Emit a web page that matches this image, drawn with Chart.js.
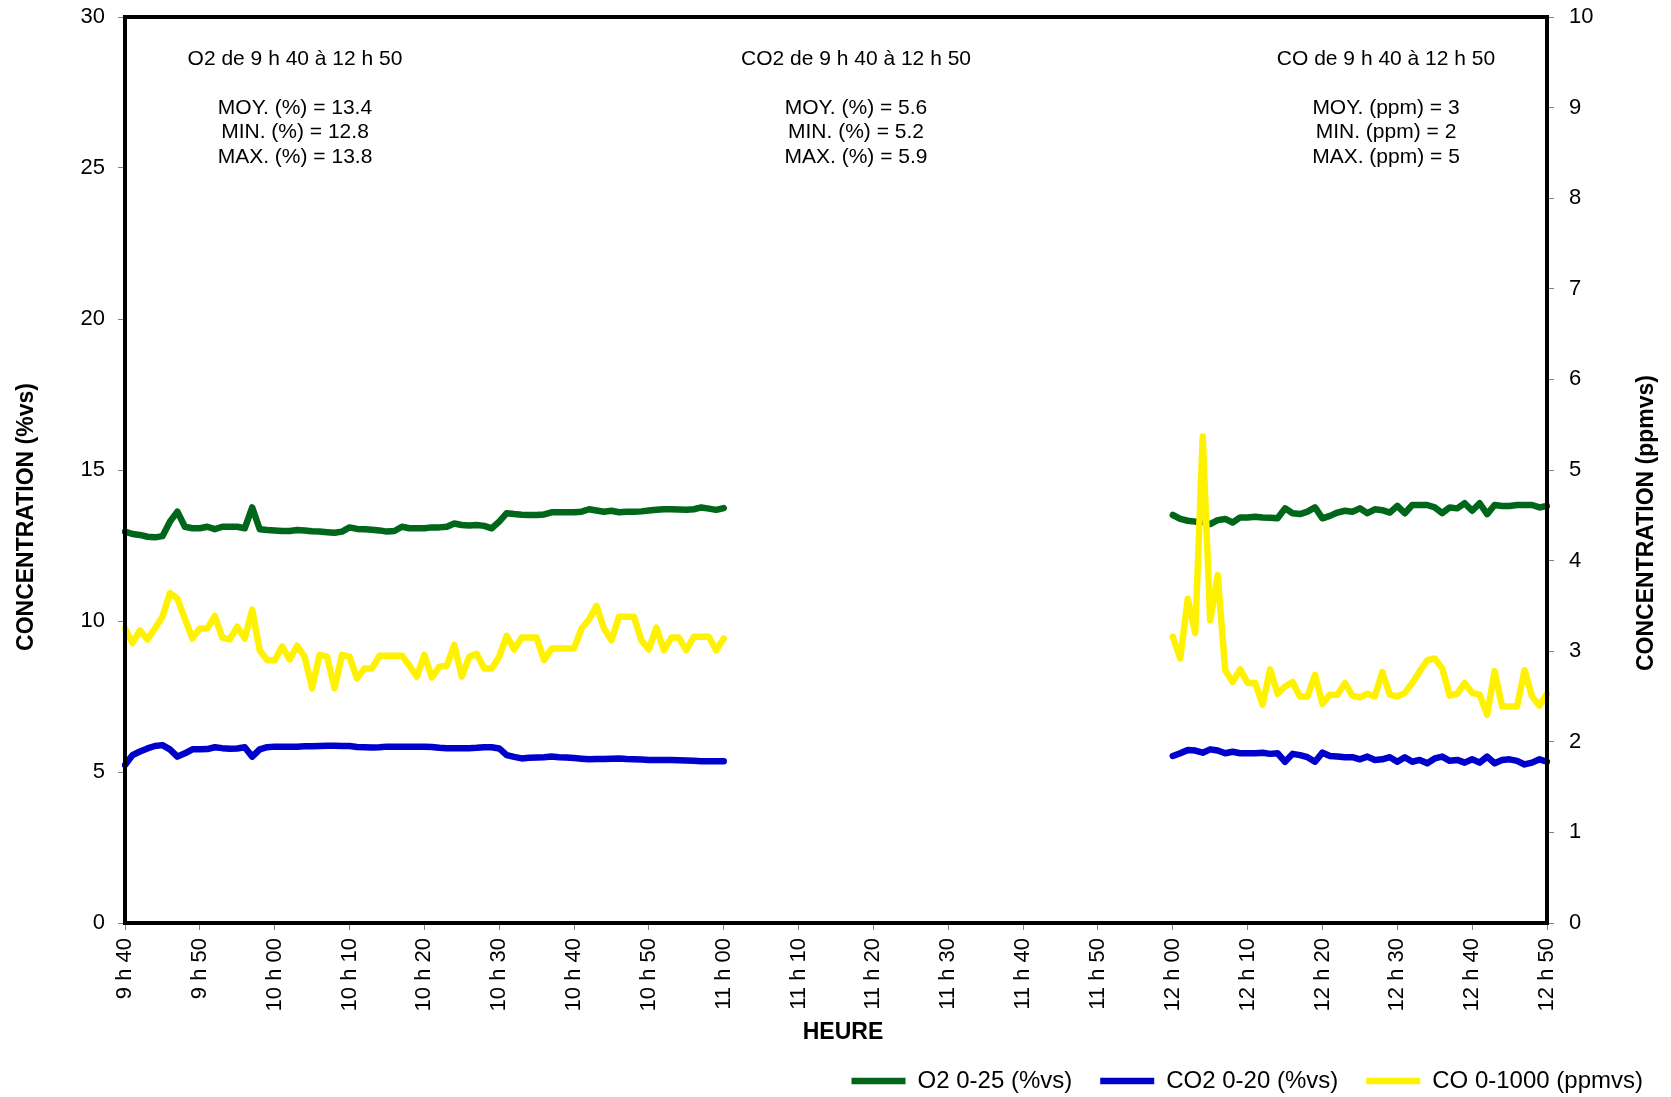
<!DOCTYPE html>
<html>
<head>
<meta charset="utf-8">
<script src="https://cdn.jsdelivr.net/npm/chart.js@4.4.0/dist/chart.umd.min.js"></script>
<style>
  html, body { margin: 0; padding: 0; background: #fff; }
</style>
</head>
<body>
<canvas id="chart" width="1671" height="1097"></canvas>
<script>
// x tick labels, one every 10 minutes
const tickLabels = ['9 h 40', '9 h 50', '10 h 00', '10 h 10', '10 h 20', '10 h 30', '10 h 40', '10 h 50',
  '11 h 00', '11 h 10', '11 h 20', '11 h 30', '11 h 40', '11 h 50', '12 h 00', '12 h 10', '12 h 20',
  '12 h 30', '12 h 40', '12 h 50'];

// readings, one per minute: 9 h 40 -> 11 h 00
const o2Morning = [12.96, 12.88, 12.85, 12.79, 12.77, 12.81, 13.29, 13.62, 13.12, 13.07,
  13.07, 13.12, 13.04, 13.12, 13.12, 13.12, 13.07, 13.76, 13.04, 13.01,
  13.00, 12.98, 12.98, 13.01, 13.00, 12.97, 12.96, 12.94, 12.92, 12.96,
  13.10, 13.05, 13.04, 13.02, 13.00, 12.96, 12.98, 13.12, 13.07, 13.07,
  13.07, 13.10, 13.10, 13.12, 13.23, 13.18, 13.16, 13.18, 13.15, 13.07,
  13.29, 13.57, 13.54, 13.52, 13.51, 13.51, 13.53, 13.60, 13.60, 13.60,
  13.60, 13.62, 13.70, 13.66, 13.62, 13.65, 13.60, 13.62, 13.62, 13.63,
  13.66, 13.68, 13.70, 13.70, 13.69, 13.68, 13.70, 13.76, 13.72, 13.68,
  13.74];
const co2Morning = [5.23, 5.56, 5.68, 5.78, 5.86, 5.89, 5.75, 5.51, 5.62, 5.75,
  5.75, 5.76, 5.82, 5.79, 5.77, 5.78, 5.82, 5.51, 5.75, 5.82,
  5.84, 5.84, 5.84, 5.84, 5.85, 5.85, 5.86, 5.87, 5.87, 5.86,
  5.86, 5.83, 5.82, 5.81, 5.82, 5.84, 5.84, 5.84, 5.84, 5.84,
  5.84, 5.83, 5.80, 5.79, 5.79, 5.79, 5.79, 5.80, 5.82, 5.82,
  5.78, 5.56, 5.50, 5.45, 5.47, 5.48, 5.49, 5.51, 5.49, 5.48,
  5.46, 5.44, 5.42, 5.43, 5.43, 5.44, 5.45, 5.43, 5.42, 5.41,
  5.40, 5.40, 5.40, 5.40, 5.39, 5.38, 5.37, 5.36, 5.36, 5.36,
  5.36];
const coMorning = [3.25, 3.09, 3.23, 3.13, 3.25, 3.38, 3.64, 3.58, 3.36, 3.14,
  3.25, 3.25, 3.39, 3.15, 3.13, 3.27, 3.14, 3.46, 3.01, 2.90,
  2.90, 3.05, 2.91, 3.06, 2.94, 2.59, 2.96, 2.94, 2.59, 2.96,
  2.94, 2.70, 2.81, 2.81, 2.95, 2.95, 2.95, 2.95, 2.84, 2.72,
  2.96, 2.71, 2.83, 2.84, 3.07, 2.72, 2.94, 2.97, 2.81, 2.81,
  2.94, 3.17, 3.02, 3.15, 3.15, 3.15, 2.90, 3.03, 3.03, 3.03,
  3.03, 3.25, 3.35, 3.50, 3.25, 3.12, 3.38, 3.38, 3.38, 3.12,
  3.02, 3.26, 3.01, 3.15, 3.15, 3.01, 3.16, 3.16, 3.16, 3.01,
  3.14];

// readings, one per minute: 12 h 00 -> 12 h 50
const o2Noon = [13.51, 13.38, 13.32, 13.29, 13.29, 13.21, 13.34, 13.38, 13.26, 13.43,
  13.43, 13.45, 13.43, 13.42, 13.40, 13.73, 13.57, 13.54, 13.62, 13.76,
  13.40, 13.48, 13.59, 13.65, 13.62, 13.73, 13.57, 13.70, 13.67, 13.59,
  13.81, 13.57, 13.84, 13.84, 13.84, 13.76, 13.57, 13.76, 13.73, 13.90,
  13.65, 13.90, 13.54, 13.84, 13.81, 13.81, 13.84, 13.84, 13.84, 13.76,
  13.81];
const co2Noon = [5.53, 5.62, 5.73, 5.71, 5.64, 5.75, 5.71, 5.62, 5.67, 5.62,
  5.62, 5.62, 5.64, 5.60, 5.62, 5.34, 5.60, 5.56, 5.49, 5.34,
  5.64, 5.53, 5.51, 5.49, 5.49, 5.42, 5.51, 5.40, 5.42, 5.49,
  5.34, 5.49, 5.34, 5.40, 5.29, 5.45, 5.51, 5.37, 5.40, 5.31,
  5.42, 5.31, 5.51, 5.29, 5.40, 5.42, 5.37, 5.25, 5.31, 5.42,
  5.34];
const coNoon = [3.16, 2.92, 3.58, 3.20, 5.37, 3.34, 3.84, 2.79, 2.66, 2.80,
  2.65, 2.65, 2.41, 2.80, 2.53, 2.61, 2.66, 2.50, 2.50, 2.74,
  2.42, 2.52, 2.52, 2.65, 2.51, 2.49, 2.53, 2.50, 2.77, 2.52,
  2.50, 2.54, 2.65, 2.78, 2.90, 2.92, 2.81, 2.51, 2.53, 2.65,
  2.54, 2.52, 2.30, 2.78, 2.39, 2.39, 2.39, 2.79, 2.50, 2.40,
  2.53];

// no readings between 11 h 01 and 11 h 59
const gap = new Array(59).fill(null);

const statsO2 = ['O2 de 9 h 40 à 12 h 50', 'MOY. (%) = 13.4', 'MIN. (%) = 12.8', 'MAX. (%) = 13.8'];
const statsCO2 = ['CO2 de 9 h 40 à 12 h 50', 'MOY. (%) = 5.6', 'MIN. (%) = 5.2', 'MAX. (%) = 5.9'];
const statsCO = ['CO de 9 h 40 à 12 h 50', 'MOY. (ppm) = 3', 'MIN. (ppm) = 2', 'MAX. (ppm) = 5'];

// one category per minute from 9 h 40 to 12 h 50
const minutes = [];
for (let i = 0; i <= 190; i++) {
  const t = 9 * 60 + 40 + i;
  minutes.push(Math.floor(t / 60) + ' h ' + String(t % 60).padStart(2, '0'));
}

const FONT = "'Liberation Sans', Arial, sans-serif";

const overlay = {
  id: 'overlay',
  afterDatasetsDraw(chart) {
    const { ctx, chartArea: a } = chart;
    ctx.save();
    ctx.lineWidth = 4;
    ctx.strokeStyle = '#000';
    ctx.strokeRect(a.left, a.top, a.right - a.left, a.bottom - a.top);

    ctx.fillStyle = '#000';
    ctx.textAlign = 'center';
    ctx.textBaseline = 'middle';
    ctx.font = '21px ' + FONT;
    [[295, statsO2], [856, statsCO2], [1386, statsCO]].forEach(([x, lines]) => {
      ctx.fillText(lines[0], x, 59);
      lines.slice(1).forEach((l, i) => ctx.fillText(l, x, 108 + i * 24.5));
    });

    ctx.font = 'bold 23px ' + FONT;
    ctx.fillText('HEURE', 843, 1033);
    ctx.translate(27, 517);
    ctx.rotate(-Math.PI / 2);
    ctx.fillText('CONCENTRATION (%vs)', 0, 0);
    ctx.restore();

    ctx.save();
    ctx.fillStyle = '#000';
    ctx.textAlign = 'center';
    ctx.textBaseline = 'middle';
    ctx.font = 'bold 23px ' + FONT;
    ctx.translate(1647, 523);
    ctx.rotate(-Math.PI / 2);
    ctx.fillText('CONCENTRATION (ppmvs)', 0, 0);
    ctx.restore();
  }
};

const lineStyle = {
  borderWidth: 6.5,
  pointRadius: 0,
  tension: 0,
  spanGaps: false,
  borderCapStyle: 'round',
  borderJoinStyle: 'round',
  fill: false
};

// fixed axis box sizes so the plot frame sits where the original one does
const fitY = width => s => {
  s.width = width;
  s.paddingTop = 0;
  s.paddingBottom = 0;
};

const ctx = document.getElementById('chart');
new Chart(ctx, {
  type: 'line',
  data: {
    labels: minutes,
    datasets: [
      { ...lineStyle, label: 'O2 0-25 (%vs)', data: [...o2Morning, ...gap, ...o2Noon],
        borderColor: '#00661A', backgroundColor: '#00661A', yAxisID: 'y', order: 2 },
      { ...lineStyle, label: 'CO2 0-20 (%vs)', data: [...co2Morning, ...gap, ...co2Noon],
        borderColor: '#0000CC', backgroundColor: '#0000CC', yAxisID: 'y', order: 1 },
      { ...lineStyle, label: 'CO 0-1000 (ppmvs)', data: [...coMorning, ...gap, ...coNoon],
        borderColor: '#FFF200', backgroundColor: '#FFF200', yAxisID: 'y1', order: 0 }
    ]
  },
  options: {
    responsive: false,
    animation: false,
    layout: { padding: { top: 17, left: 0, right: 0, bottom: -6 } },
    plugins: {
      tooltip: { enabled: false },
      legend: {
        position: 'bottom',
        align: 'end',
        labels: {
          usePointStyle: true,
          pointStyle: 'line',
          pointStyleWidth: 54,
          padding: 28,
          color: '#000',
          font: { family: FONT, size: 24 },
          sort: (a, b) => a.datasetIndex - b.datasetIndex
        }
      }
    },
    scales: {
      x: {
        type: 'category',
        offset: false,
        afterFit: s => { s.height = 118; },
        border: { display: false },
        grid: { drawOnChartArea: false, tickLength: 7, color: '#808080', tickColor: '#808080' },
        ticks: {
          autoSkip: false,
          minRotation: 90,
          maxRotation: 90,
          padding: 8,
          color: '#000',
          font: { family: FONT, size: 22 },
          callback: (v, i) => (i % 10 === 0 ? tickLabels[i / 10] : null)
        }
      },
      y: {
        position: 'left',
        min: 0,
        max: 30,
        afterFit: fitY(125),
        border: { display: false },
        grid: { drawOnChartArea: false, tickLength: 7, color: '#808080', tickColor: '#808080' },
        ticks: { stepSize: 5, padding: 13, color: '#000', font: { family: FONT, size: 22 } }
      },
      y1: {
        position: 'right',
        min: 0,
        max: 10,
        afterFit: fitY(124),
        border: { display: false },
        grid: { drawOnChartArea: false, tickLength: 7, color: '#808080', tickColor: '#808080' },
        ticks: { stepSize: 1, padding: 15, color: '#000', font: { family: FONT, size: 22 } }
      }
    }
  },
  plugins: [overlay]
});
</script>
</body>
</html>
